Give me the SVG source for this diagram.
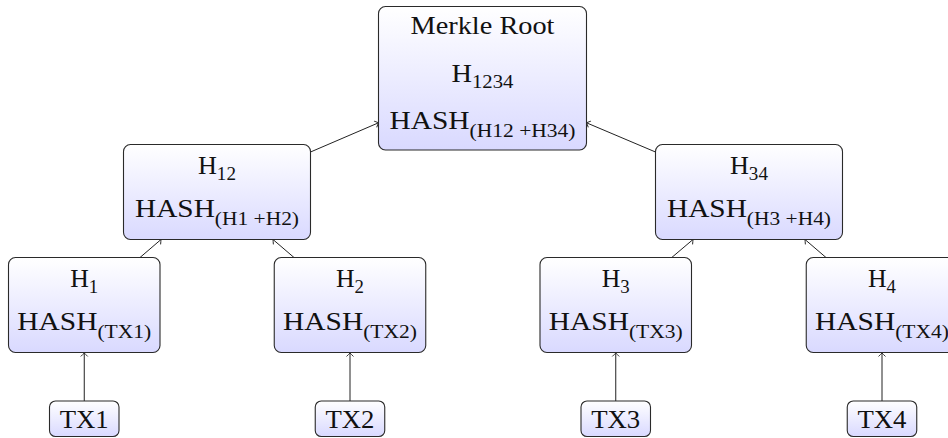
<svg xmlns="http://www.w3.org/2000/svg" width="948" height="438" viewBox="0 0 948 438">
<defs>
<linearGradient id="g" x1="0" y1="0" x2="0" y2="1">
<stop offset="0" stop-color="#ffffff"/>
<stop offset="1" stop-color="#d9d9ff"/>
</linearGradient>
<marker id="arr" markerUnits="userSpaceOnUse" markerWidth="10" markerHeight="10" viewBox="-5 -5 10 10" refX="0" refY="0" orient="auto">
<path d="M -3.2,-3.2 Q -1,-1 0,0 Q -1,1 -3.2,3.2" fill="none" stroke="#222" stroke-width="0.9" stroke-linecap="round"/>
</marker>
<style>
.box{fill:url(#g);stroke:#2a2a2a;stroke-width:1.1}
.t{font-family:"Liberation Serif","Times New Roman",serif;font-size:26px;fill:#111}
.s{font-size:19px}
.c{fill:none;stroke:#222;stroke-width:1;marker-end:url(#arr)}
</style>
</defs>

<g id="connectors">
<line class="c" x1="84.25" y1="401" x2="84.25" y2="353"/>
<line class="c" x1="350" y1="401" x2="350" y2="353"/>
<line class="c" x1="615.75" y1="401" x2="615.75" y2="353"/>
<line class="c" x1="882" y1="401" x2="882" y2="353"/>
<line class="c" x1="140" y1="257.5" x2="161" y2="239.5"/>
<line class="c" x1="294" y1="257.5" x2="273" y2="239.5"/>
<line class="c" x1="671.75" y1="257.5" x2="693" y2="239.5"/>
<line class="c" x1="826" y1="257.5" x2="805" y2="239.5"/>
<line class="c" x1="310.5" y1="152" x2="378.5" y2="122.8"/>
<line class="c" x1="655.5" y1="152" x2="586.5" y2="122.8"/>
</g>

<g id="root">
<rect class="box" x="378.5" y="6.5" width="208" height="143.5" rx="7"/>
<text class="t" x="410.5" y="33.5" textLength="144" lengthAdjust="spacingAndGlyphs">Merkle Root</text>
<text class="t" x="451.5" y="82" textLength="62" lengthAdjust="spacingAndGlyphs">H<tspan class="s" dy="6">1234</tspan></text>
<text class="t" x="389.5" y="128.5" textLength="186" lengthAdjust="spacingAndGlyphs">HASH<tspan class="s" dy="8">(H12 +H34)</tspan></text>
</g>

<g id="h12">
<rect class="box" x="123.5" y="144.5" width="187" height="95" rx="7"/>
<text class="t" x="198" y="173.5" textLength="38" lengthAdjust="spacingAndGlyphs">H<tspan class="s" dy="6">12</tspan></text>
<text class="t" x="135" y="216.5" textLength="164" lengthAdjust="spacingAndGlyphs">HASH<tspan class="s" dy="8">(H1 +H2)</tspan></text>
</g>

<g id="h34">
<rect class="box" x="655.5" y="144.5" width="187" height="95" rx="7"/>
<text class="t" x="730" y="173.5" textLength="38" lengthAdjust="spacingAndGlyphs">H<tspan class="s" dy="6">34</tspan></text>
<text class="t" x="667" y="216.5" textLength="164" lengthAdjust="spacingAndGlyphs">HASH<tspan class="s" dy="8">(H3 +H4)</tspan></text>
</g>

<g id="h1">
<rect class="box" x="8.5" y="257.5" width="151.5" height="95" rx="7"/>
<text class="t" x="70.25" y="286.5" textLength="28" lengthAdjust="spacingAndGlyphs">H<tspan class="s" dy="6">1</tspan></text>
<text class="t" x="17.25" y="329.5" textLength="134" lengthAdjust="spacingAndGlyphs">HASH<tspan class="s" dy="8">(TX1)</tspan></text>
</g>

<g id="h2">
<rect class="box" x="274.25" y="257.5" width="151.5" height="95" rx="7"/>
<text class="t" x="336" y="286.5" textLength="28" lengthAdjust="spacingAndGlyphs">H<tspan class="s" dy="6">2</tspan></text>
<text class="t" x="283" y="329.5" textLength="134" lengthAdjust="spacingAndGlyphs">HASH<tspan class="s" dy="8">(TX2)</tspan></text>
</g>

<g id="h3">
<rect class="box" x="540" y="257.5" width="151.5" height="95" rx="7"/>
<text class="t" x="601.75" y="286.5" textLength="28" lengthAdjust="spacingAndGlyphs">H<tspan class="s" dy="6">3</tspan></text>
<text class="t" x="548.75" y="329.5" textLength="134" lengthAdjust="spacingAndGlyphs">HASH<tspan class="s" dy="8">(TX3)</tspan></text>
</g>

<g id="h4">
<rect class="box" x="806.25" y="257.5" width="151.5" height="95" rx="7"/>
<text class="t" x="868" y="286.5" textLength="28" lengthAdjust="spacingAndGlyphs">H<tspan class="s" dy="6">4</tspan></text>
<text class="t" x="815" y="329.5" textLength="134" lengthAdjust="spacingAndGlyphs">HASH<tspan class="s" dy="8">(TX4)</tspan></text>
</g>

<g id="tx1">
<rect class="box" x="49.5" y="401" width="69.5" height="35.5" rx="6"/>
<text class="t" x="59.75" y="427.5" textLength="49" lengthAdjust="spacingAndGlyphs">TX1</text>
</g>
<g id="tx2">
<rect class="box" x="315.25" y="401" width="69.5" height="35.5" rx="6"/>
<text class="t" x="325.5" y="427.5" textLength="49" lengthAdjust="spacingAndGlyphs">TX2</text>
</g>
<g id="tx3">
<rect class="box" x="581" y="401" width="69.5" height="35.5" rx="6"/>
<text class="t" x="591.25" y="427.5" textLength="49" lengthAdjust="spacingAndGlyphs">TX3</text>
</g>
<g id="tx4">
<rect class="box" x="847.25" y="401" width="69.5" height="35.5" rx="6"/>
<text class="t" x="857.5" y="427.5" textLength="49" lengthAdjust="spacingAndGlyphs">TX4</text>
</g>
</svg>
